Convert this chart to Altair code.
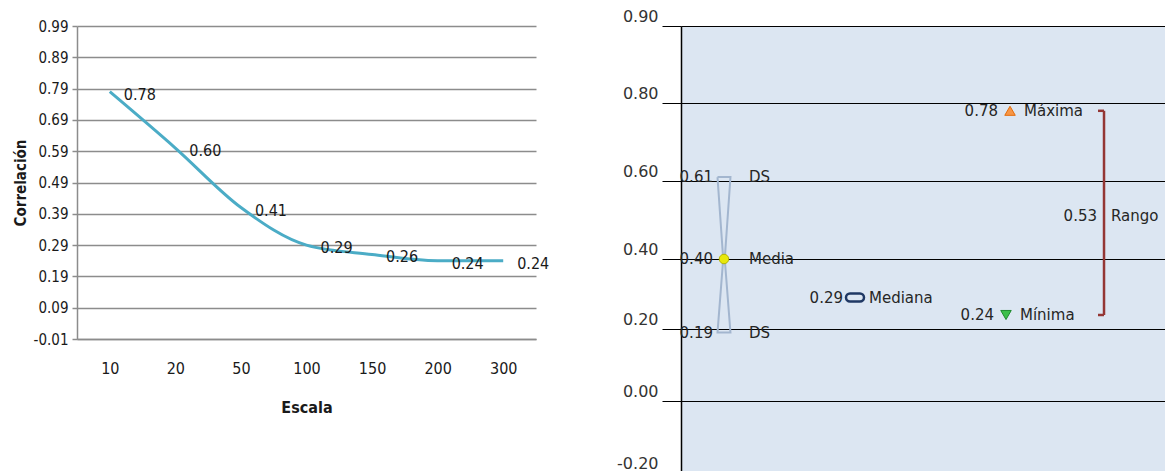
import altair as alt
import pandas as pd

# ---------- left chart data ----------
escala = ["10", "20", "50", "100", "150", "200", "300"]
correlacion = [0.78, 0.60, 0.41, 0.29, 0.26, 0.24, 0.24]
ticks_izq = [-0.01, 0.09, 0.19, 0.29, 0.39, 0.49, 0.59, 0.69, 0.79, 0.89, 0.99]

# ---------- right chart data ----------
grupoA_nombres = ["Media", "DS", "DS"]
grupoA_valores = [0.40, 0.61, 0.19]
grupoB_nombres = ["Mediana", "Máxima", "Mínima"]
grupoB_valores = [0.29, 0.78, 0.24]
grupoB_pos = [35.95, 67.98, 67.15]
pos_media = 8.88
media = 0.40
ds_sup = 0.61
ds_inf = 0.19
maximo = 0.78
minimo = 0.24
rango = 0.53
pos_rango = 87.4
ticks_der = [0.90, 0.80, 0.60, 0.40, 0.20, 0.00, -0.20]
escala_dom = [-0.20, 0.00, 0.20, 0.40, 0.60, 0.80, 0.90]

NARROW = "DejaVu Sans Condensed, Liberation Sans Narrow, sans-serif"
SANS = "DejaVu Sans, sans-serif"
LBL = "datum.value < 0 ? '-' + format(-datum.value, '.2f') : format(datum.value, '.2f')"

# ================= LEFT =================
df_l = pd.DataFrame({"escala": escala, "correlacion": correlacion})
df_l["etiqueta"] = [f"{v:.2f}" for v in correlacion]

x_l = alt.X("escala:N", sort=escala, scale=alt.Scale(padding=0.5),
            axis=alt.Axis(title="Escala", labelAngle=0, ticks=False,
                          domainColor="#8c8c8c", domainWidth=1.5,
                          labelFont=NARROW, labelFontSize=16, labelColor="#1a1a1a",
                          labelPadding=21, titleFont=NARROW, titleFontSize=16,
                          titleFontWeight="bold", titleColor="#1a1a1a", titlePadding=23))
y_l = alt.Y("correlacion:Q",
            scale=alt.Scale(domain=[-0.01, 0.99], nice=False, zero=False),
            axis=alt.Axis(values=ticks_izq, labelExpr=LBL, title="Correlación",
                          grid=True, gridColor="#8c8c8c", gridWidth=1.5,
                          domainColor="#8c8c8c", domainWidth=1.5,
                          tickColor="#8c8c8c", tickSize=5, tickWidth=1.5,
                          labelFont=NARROW, labelFontSize=15, labelColor="#1a1a1a",
                          labelPadding=4, titleFont=NARROW, titleFontSize=15,
                          titleFontWeight="bold", titleColor="#1a1a1a", titlePadding=5))

base_l = alt.Chart(df_l).encode(x=x_l, y=y_l)
linea = base_l.mark_line(color="#4bacc6", strokeWidth=3, interpolate="monotone")
etiquetas = base_l.mark_text(align="left", baseline="middle", dx=14, dy=3,
                             font=NARROW, fontSize=16, color="#1a1a1a").encode(text="etiqueta:N")
izq = alt.layer(linea, etiquetas).properties(width=459, height=313)

# ================= RIGHT =================
x_r = alt.X("pos:Q", scale=alt.Scale(domain=[0, 100], nice=False, zero=False), axis=None)
y_r = alt.Y("valor:Q",
            scale=alt.Scale(domain=escala_dom, range=[447, 375, 303, 233, 155, 77, 0],
                            nice=False, zero=False),
            axis=alt.Axis(values=ticks_der, labelExpr=LBL, title=None,
                          grid=True, gridColor="#000000", gridWidth=1,
                          domainColor="#000000", domainWidth=1.5,
                          tickColor="#000000", tickSize=19, tickWidth=1,
                          labelFont=SANS, labelFontSize=16, labelColor="#333333",
                          labelPadding=4, labelBaseline="middle", labelOffset=-10))

# hourglass (DS) outline
hw = 1.34
nw = 0.16
df_hg = pd.DataFrame({
    "pos": [pos_media - hw, pos_media + hw, pos_media + nw, pos_media + hw,
            pos_media - hw, pos_media - nw, pos_media - hw],
    "valor": [ds_sup, ds_sup, media, ds_inf, ds_inf, media, ds_sup],
    "orden": list(range(7)),
})
reloj = alt.Chart(df_hg).mark_line(color="#a3b6cf", strokeWidth=2).encode(
    x=x_r, y=y_r, order="orden:Q")

df_media = pd.DataFrame({"pos": [pos_media], "valor": [media]})
punto_media = alt.Chart(df_media).mark_point(
    shape="circle", filled=True, size=90, fill="#e8e80c", stroke="#b5b500",
    strokeWidth=1, opacity=1).encode(x=x_r, y=y_r)

df_A = pd.DataFrame({"pos": [pos_media] * 3, "valor": grupoA_valores,
                     "nombre": grupoA_nombres})
df_A["etiqueta"] = [f"{v:.2f}" for v in grupoA_valores]
txtA_val = alt.Chart(df_A).mark_text(align="right", baseline="middle", dx=-11,
                                     font=SANS, fontSize=15, color="#262626").encode(
    x=x_r, y=y_r, text="etiqueta:N")
txtA_nom = alt.Chart(df_A).mark_text(align="left", baseline="middle", dx=25,
                                     font=SANS, fontSize=15, color="#262626").encode(
    x=x_r, y=y_r, text="nombre:N")

df_B = pd.DataFrame({"pos": grupoB_pos, "valor": grupoB_valores, "nombre": grupoB_nombres})
df_B["etiqueta"] = [f"{v:.2f}" for v in grupoB_valores]
txtB_val = alt.Chart(df_B).mark_text(align="right", baseline="middle", dx=-12,
                                     font=SANS, fontSize=15, color="#262626").encode(
    x=x_r, y=y_r, text="etiqueta:N")
txtB_nom = alt.Chart(df_B).mark_text(align="left", baseline="middle", dx=14,
                                     font=SANS, fontSize=15, color="#262626").encode(
    x=x_r, y=y_r, text="nombre:N")

mediana_mk = alt.Chart(df_B.iloc[[0]]).mark_rect(
    width=18, height=8, cornerRadius=4, fill="#dce6f2", stroke="#1f3864",
    strokeWidth=2.5).encode(x=x_r, y=y_r)
max_mk = alt.Chart(df_B.iloc[[1]]).mark_point(
    shape="triangle-up", filled=True, size=110, fill="#f79646", stroke="#e46c0a",
    strokeWidth=1, opacity=1).encode(x=x_r, y=y_r)
min_mk = alt.Chart(df_B.iloc[[2]]).mark_point(
    shape="triangle-down", filled=True, size=110, fill="#3cbf4a", stroke="#1e8a2e",
    strokeWidth=1, opacity=1).encode(x=x_r, y=y_r)

# range bracket
df_rv = pd.DataFrame({"pos": [pos_rango], "valor": [maximo], "valor2": [minimo]})
brk_v = alt.Chart(df_rv).mark_rule(color="#943634", strokeWidth=2.5).encode(
    x=x_r, y=y_r, y2="valor2:Q")
df_rh = pd.DataFrame({"pos": [pos_rango - 1.24] * 2, "pos2": [pos_rango] * 2,
                      "valor": [maximo, minimo]})
brk_h = alt.Chart(df_rh).mark_rule(color="#943634", strokeWidth=2.5).encode(
    x=x_r, x2="pos2:Q", y=y_r)
df_rt = pd.DataFrame({"pos": [pos_rango], "valor": [(maximo + minimo) / 2],
                      "etiqueta": [f"{rango:.2f}"], "nombre": ["Rango"]})
rango_val = alt.Chart(df_rt).mark_text(align="right", baseline="middle", dx=-7,
                                       font=SANS, fontSize=15, color="#262626").encode(
    x=x_r, y=y_r, text="etiqueta:N")
rango_nom = alt.Chart(df_rt).mark_text(align="left", baseline="middle", dx=7,
                                       font=SANS, fontSize=15, color="#262626").encode(
    x=x_r, y=y_r, text="nombre:N")

der = alt.layer(reloj, punto_media, txtA_val, txtA_nom, mediana_mk, max_mk, min_mk,
                txtB_val, txtB_nom, brk_v, brk_h, rango_val, rango_nom).properties(
    width=484, height=447,
    view=alt.ViewBackground(fill="#dce6f2", stroke=None))

chart = alt.hconcat(izq, der, spacing=66).configure_view(stroke=None).properties(
    background="white", padding={"left": 5, "top": 0, "right": 0, "bottom": 0})

chart.save("out.html", embed_options={"renderer": "svg", "actions": False})
